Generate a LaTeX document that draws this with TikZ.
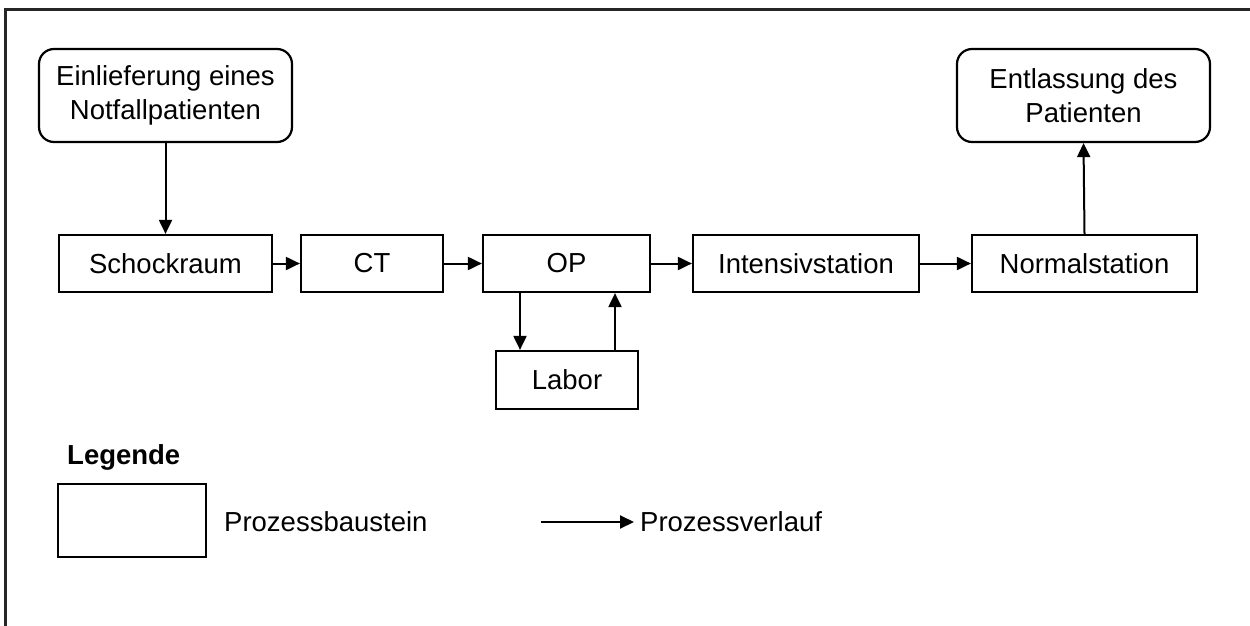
\documentclass[tikz,border=0pt]{standalone}
\usepackage{fontspec}
\setmainfont{Liberation Sans}
\usetikzlibrary{arrows.meta}
\begin{document}
\begin{tikzpicture}[x=1pt,y=-1pt,
  font=\fontsize{27.5}{34}\selectfont,
  proc/.style={draw, line width=2.2pt, inner sep=0pt, minimum height=57pt, align=center},
  terminal/.style={draw, line width=2.2pt, rounded corners=15pt, inner sep=0pt,
    minimum width=253pt, minimum height=93pt, align=center},
  flow/.style={line width=2pt, -{Triangle[length=14pt,width=13pt]}},
  lbl/.style={inner sep=0pt, anchor=west}]
  \useasboundingbox (0,0) rectangle (1250,626);
  % outer frame
  \draw[line width=2.4pt, black!85] (1260,9.5) -- (5.5,9.5) -- (5.5,640);

  % start and end
  \node[terminal] (ein) at (165.5,95.5) {Einlieferung eines\\Notfallpatienten};
  \node[terminal] (ent) at (1083.5,95.5) {Entlassung des\\Patienten};

  % process steps
  \node[proc, minimum width=213pt] (schock) at (165.5,263.5) {Schockraum};
  \node[proc, minimum width=142pt] (ct) at (372,263.5) {CT};
  \node[proc, minimum width=167pt] (op) at (566.5,263.5) {OP};
  \node[proc, minimum width=142pt, minimum height=58pt] (lab) at (567,380) {Labor};
  \node[proc, minimum width=226pt] (int) at (806,263.5) {Intensivstation};
  \node[proc, minimum width=225pt] (norm) at (1084.5,263.5) {Normalstation};

  % process flow
  \draw[flow] (ein.south) -- (schock.north);
  \draw[flow] (schock.east) -- (ct.west);
  \draw[flow] (ct.east) -- (op.west);
  \draw[flow] ([xshift=-46.5pt]op.south) -- ([xshift=-47pt]lab.north);
  \draw[flow] ([xshift=48pt]lab.north) -- ([xshift=48.5pt]op.south);
  \draw[flow] (op.east) -- (int.west);
  \draw[flow] (int.east) -- (norm.west);
  \draw[flow] (norm.north) -- (ent.south);

  % legend
  \node[lbl, font=\fontsize{27.5}{34}\selectfont\bfseries] (leg) at (67,457) {Legende};
  \node[proc, minimum width=148pt, minimum height=73pt] (legbox) at (132,520.5) {};
  \node[lbl] (legboxtxt) at (224,522) {Prozessbaustein};
  \coordinate (la) at (541,522);
  \coordinate (lb) at (634,522);
  \draw[flow] (la) -- (lb);
  \node[lbl] (legflowtxt) at (640,522) {Prozessverlauf};
\end{tikzpicture}
\end{document}
